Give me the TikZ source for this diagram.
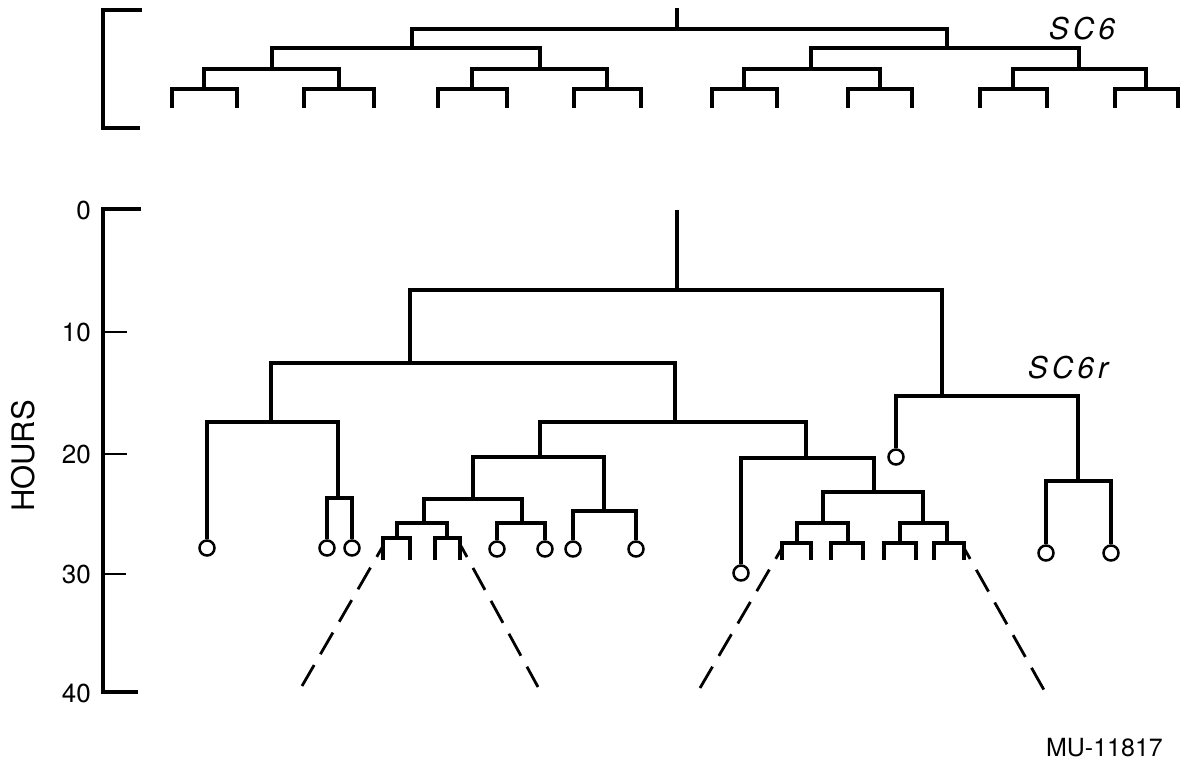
\documentclass[tikz,border=0pt]{standalone}
\usepackage{fontspec}
\setmainfont{TeX Gyre Heros}
\begin{document}
\begin{tikzpicture}[x=1pt,y=-1pt,
  br/.style={line width=3.2pt, line join=miter},
  thintick/.style={line width=1.5pt},
  leafc/.style={circle, draw, line width=2.5pt, minimum size=15pt, inner sep=0pt},
  dsh/.style={line width=2.8pt, dash pattern=on 25pt off 12.5pt, dash phase=12.5pt},
  num/.style={font=\fontsize{26}{26}\selectfont, anchor=east, inner sep=0pt},
  tname/.style={font=\fontsize{30}{30}\selectfont\itshape, inner sep=0pt}]
\useasboundingbox (0,0) rectangle (1185,764);

% ---------- top dendrogram (SC6) ----------
\draw[br] (142,10) -- (103,10) -- (103,128) -- (140,128);
\coordinate (t0) at (677,8);
\coordinate (t) at (677,29);
\coordinate (t1) at (412,48);
\coordinate (t2) at (947,48);
\coordinate (t11) at (272,69);
\coordinate (t12) at (540,69);
\coordinate (t21) at (811,69);
\coordinate (t22) at (1079,69);
\coordinate (u1) at (204,89);
\coordinate (u2) at (339,89);
\coordinate (u3) at (472,89);
\coordinate (u4) at (607,89);
\coordinate (u5) at (744,89);
\coordinate (u6) at (880,89);
\coordinate (u7) at (1013,89);
\coordinate (u8) at (1146,89);
\foreach \n/\xa/\xb in {1/172/237, 2/304/374, 3/438/507, 4/574/641, 5/712/777, 6/848/912, 7/980/1047, 8/1115/1178}{
  \coordinate (v\n a) at (\xa,108);
  \coordinate (v\n b) at (\xb,108);
  \draw[br] (v\n a) |- (u\n) -| (v\n b);
}
\draw[br] (t0) -- (t);
\draw[br] (t1) |- (t) -| (t2);
\draw[br] (t11) |- (t1) -| (t12);
\draw[br] (t21) |- (t2) -| (t22);
\draw[br] (u1) |- (t11) -| (u2);
\draw[br] (u3) |- (t12) -| (u4);
\draw[br] (u5) |- (t21) -| (u6);
\draw[br] (u7) |- (t22) -| (u8);
\node[tname] (sc6) at (1082,29) {S\hspace{4pt}C\hspace{4pt}6};

% ---------- axis ----------
\coordinate (ax0) at (103,209);
\coordinate (ax40) at (103,692);
\draw[br] (141,209) -- (ax0) -- (ax40) -- (138,692);
\draw[thintick] (103,332) -- (127,332);
\draw[thintick] (103,454) -- (127,454);
\draw[thintick] (103,574) -- (126,574);
\node[num] (n0) at (91,210) {0};
\node[num] (n10) at (91,332) {10};
\node[num] (n20) at (91,454) {20};
\node[num] (n30) at (91,574) {30};
\node[num] (n40) at (91,693) {40};
\node[font=\fontsize{31}{31}\selectfont, rotate=90, inner sep=0pt] (hours) at (23,456) {HOURS};

% ---------- bottom dendrogram (SC6r) ----------
\coordinate (r0) at (677,210);
\coordinate (r) at (677,290);
\coordinate (a) at (410,363);
\coordinate (b) at (942,396);
\coordinate (a1) at (271,422);
\coordinate (a2) at (675,422);
\coordinate (a1b) at (338,498);
\coordinate (a2a) at (540,457);
\coordinate (a2b) at (806,458);
\coordinate (a2a1) at (473,499);
\coordinate (a2a2) at (604,511);
\coordinate (a2a1a) at (424,523);
\coordinate (a2a1b) at (522,523);
\coordinate (p1) at (397,538);
\coordinate (p2) at (447,538);
\coordinate (a2b2) at (874,492);
\coordinate (q1) at (823,523);
\coordinate (q2) at (923,523);
\coordinate (s1) at (797,543);
\coordinate (s2) at (848,543);
\coordinate (s3) at (900,543);
\coordinate (s4) at (947,543);
\coordinate (b2) at (1078,481);

\node[leafc] (l1) at (207,548) {};
\node[leafc] (l2) at (327,548) {};
\node[leafc] (l3) at (352,548) {};
\node[leafc] (l4) at (497,549) {};
\node[leafc] (l5) at (545,549) {};
\node[leafc] (l6) at (573,549) {};
\node[leafc] (l7) at (636,549) {};
\node[leafc] (l8) at (741,573) {};
\node[leafc] (l9) at (896,457) {};
\node[leafc] (l10) at (1046,553) {};
\node[leafc] (l11) at (1111,553) {};

\coordinate (e1) at (383,560); \coordinate (e2) at (410,560);
\coordinate (e3) at (435,560); \coordinate (e4) at (460,560);
\coordinate (e5) at (782,560); \coordinate (e6) at (811,560);
\coordinate (e7) at (831,560); \coordinate (e8) at (863,560);
\coordinate (e9) at (884,560); \coordinate (e10) at (916,560);
\coordinate (e11) at (934,560); \coordinate (e12) at (964,560);

\draw[br] (r0) -- (r);
\draw[br] (a) |- (r) -| (b);
\draw[br] (a1) |- (a) -| (a2);
\draw[br] (l1.north) |- (a1) -| (a1b);
\draw[br] (l2.north) |- (a1b) -| (l3.north);
\draw[br] (a2a) |- (a2) -| (a2b);
\draw[br] (a2a1) |- (a2a) -| (a2a2);
\draw[br] (a2a1a) |- (a2a1) -| (a2a1b);
\draw[br] (p1) |- (a2a1a) -| (p2);
\draw[br] (e1) |- (p1) -| (e2);
\draw[br] (e3) |- (p2) -| (e4);
\draw[br] (l4.north) |- (a2a1b) -| (l5.north);
\draw[br] (l6.north) |- (a2a2) -| (l7.north);
\draw[br] (l8.north) |- (a2b) -| (a2b2);
\draw[br] (q1) |- (a2b2) -| (q2);
\draw[br] (s1) |- (q1) -| (s2);
\draw[br] (s3) |- (q2) -| (s4);
\draw[br] (e5) |- (s1) -| (e6);
\draw[br] (e7) |- (s2) -| (e8);
\draw[br] (e9) |- (s3) -| (e10);
\draw[br] (e11) |- (s4) -| (e12);
\draw[br] (l9.north) |- (b) -| (b2);
\draw[br] (l10.north) |- (b2) -| (l11.north);

% dashed fans
\coordinate (d1a) at (383,546); \coordinate (d1b) at (302,686);
\coordinate (d2a) at (461,546); \coordinate (d2b) at (538,687);
\coordinate (d3a) at (782,548); \coordinate (d3b) at (700,688);
\coordinate (d4a) at (964,548); \coordinate (d4b) at (1044,690);
\draw[dsh] (d1a) -- (d1b);
\draw[dsh] (d2a) -- (d2b);
\draw[dsh] (d3a) -- (d3b);
\draw[dsh] (d4a) -- (d4b);

\node[tname] (sc6r) at (1068,368) {S\hspace{4pt}C\hspace{4pt}6\hspace{4pt}r};
\node[font=\fontsize{25}{25}\selectfont, anchor=east, inner sep=0pt] (mu) at (1163,748) {MU-11817};
\end{tikzpicture}
\end{document}
